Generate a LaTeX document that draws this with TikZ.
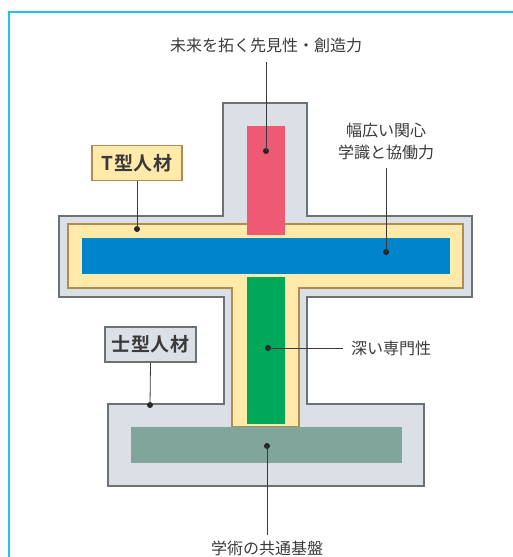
\documentclass[tikz,border=0pt]{standalone}
\usepackage{fontspec}
\newfontfamily\jp{Noto Sans CJK JP}
\newfontfamily\jpb[LetterSpace=4]{Noto Sans CJK JP Bold}
\usetikzlibrary{calc}
\definecolor{frame}{HTML}{22C4DC}
\definecolor{grayfill}{HTML}{DAE0E6}
\definecolor{grayline}{HTML}{6E7174}
\definecolor{yelfill}{HTML}{FFEAAA}
\definecolor{yelline}{HTML}{B08C55}
\definecolor{redbar}{HTML}{EE5A74}
\definecolor{bluebar}{HTML}{0085CC}
\definecolor{greenbar}{HTML}{00A85A}
\definecolor{tealbar}{HTML}{80A59A}
\definecolor{txt}{HTML}{3A3A3A}
\tikzset{
  lbl/.style={font=\jp\fontsize{16}{19}\selectfont, text=txt, inner sep=0pt},
  tag/.style={font=\jpb\fontsize{19}{22}\selectfont, text=txt, inner sep=0pt, minimum height=35pt, line width=1.6pt},
  lead/.style={draw=txt, line width=0.8pt},
  pin/.style={circle, fill=black!85, inner sep=0pt, minimum size=6pt},
  bar/.style={draw=none, inner sep=0pt}
}
\begin{document}
\begin{tikzpicture}[x=1pt,y=-1pt]
\useasboundingbox (0,0) rectangle (513,557);
% frame
\draw[frame, line width=1.6pt] (9,557) -- (9,12) -- (513,12);
% gray shape
\draw[fill=grayfill, draw=grayline, line width=1.6pt, line join=miter]
  (223,103) -- (307,103) -- (307,216) -- (472,216) -- (472,297) -- (307,297)
  -- (307,404) -- (424,404) -- (424,486) -- (108,486) -- (108,404) -- (224,404)
  -- (224,297) -- (59,297) -- (59,216) -- (223,216) -- cycle;
% yellow T
\draw[fill=yelfill, draw=yelline, line width=1.6pt]
  (68,224) -- (463,224) -- (463,288) -- (299,288) -- (299,427) -- (232,427)
  -- (232,288) -- (68,288) -- cycle;
% bars
\fill[redbar] (247,126) rectangle (285,235);
\fill[bluebar] (82,238) rectangle (450,274);
\fill[greenbar] (247,277) rectangle (285,424);
\fill[tealbar] (131,427) rectangle (402,463);
% dots
\node[pin] (dr) at (266,151) {};
\node[pin] (db) at (386,252) {};
\node[pin] (dt) at (137,229) {};
\node[pin] (ds) at (150,405) {};
\node[pin] (dg) at (268,348) {};
\node[pin] (dk) at (267,446) {};
% labels
\node[lbl] (ltop) at (266,45) {未来を拓く先見性・創造力};
\node[lbl, align=center] (lblue) at (386,141) {幅広い関心\\[3pt]学識と協働力};
\node[lbl, anchor=west] (lgreen) at (351,348) {深い専門性};
\node[lbl] (lbase) at (267,548) {学術の共通基盤};
\node[tag, draw=yelline, fill=yelfill, minimum width=90pt] (tT) at (137,163) {T型人材};
\node[tag, draw=grayline, fill=grayfill, minimum width=91pt] (tS) at (150.5,344.5) {士型人材};
% leads
\coordinate (cr) at (266,62);
\coordinate (cb) at (386,168);
\coordinate (cg) at (343,348);
\coordinate (ck) at (267,535);
\draw[lead] (cr) -- (dr.center);
\draw[lead] (cb) -- (db.center);
\draw[lead] (dg.center) -- (cg);
\draw[lead] (dk.center) -- (ck);
\draw[lead] (tT.south) -- (dt.center);
\draw[lead] (tS.south) -- (ds.center);
\end{tikzpicture}
\end{document}
